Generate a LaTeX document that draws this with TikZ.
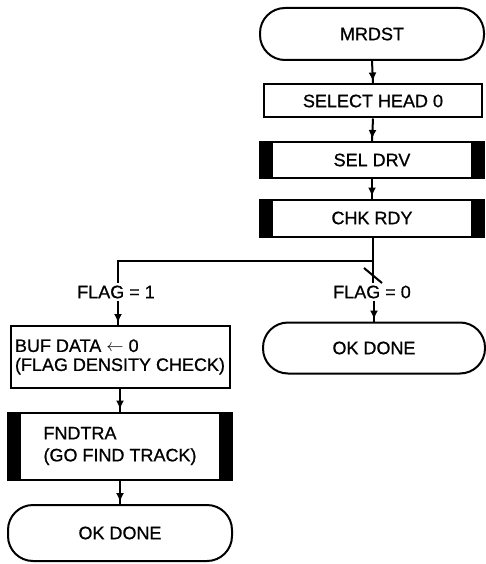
\documentclass[tikz,border=0pt]{standalone}
\usepackage{fontspec}
\setmainfont{Liberation Sans}
\newfontfamily\flowfont{Liberation Sans}[FakeBold=0.8]
\usetikzlibrary{arrows.meta, decorations.markings}

\begin{document}
\begin{tikzpicture}[x=1pt, y=-1pt, line width=2pt, font=\flowfont\fontsize{18}{21}\selectfont,
    term/.style={draw, rounded corners=25pt, minimum width=#1, minimum height=52pt, inner sep=0pt},
    proc/.style={draw, minimum width=218pt, minimum height=33pt, inner sep=0pt},
    predef/.style={draw, minimum width=224pt, minimum height=36pt, inner sep=0pt,
        path picture={
            \fill (path picture bounding box.north west) rectangle ([xshift=13pt]path picture bounding box.south west);
            \fill (path picture bounding box.north east) rectangle ([xshift=-13pt]path picture bounding box.south east);
        }},
    flow/.style={decoration={markings, mark=at position -2pt with {\arrow{Latex[length=9pt,width=8pt]}}}, postaction={decorate}},
    lbl/.style={inner sep=2pt}]
    \useasboundingbox (0,0) rectangle (486,564);

    % main column
    \node[term=224pt] (start) at (372,34) {MRDST};
    \node[proc] (selhead) at (373,101) {SELECT HEAD 0};
    \node[predef] (seldrv) at (372,160) {SEL DRV};
    \node[predef, minimum height=37pt] (chkrdy) at (372,218) {CHK RDY};

    \draw[flow] (start.south) -- (selhead.north);
    \draw[flow] (selhead.south) -- (seldrv.north);
    \draw[flow] (seldrv.south) -- (chkrdy.north);

    % branch on flag
    \coordinate (split) at (373,261);
    \coordinate (lsplit) at (118,261);
    \node[lbl] (flag1) at (116,292) {FLAG = 1};
    \node[lbl] (flag0) at (372,292) {FLAG = 0};

    \draw (chkrdy.south -| split) -- (split) -- (lsplit) -- (lsplit |- flag1.north);
    \draw (split) -- (split |- flag0.north);
    \draw ([xshift=-9pt,yshift=8pt]split |- 0,276) -- ([xshift=9pt,yshift=-7pt]split |- 0,276);

    % flag = 0
    \node[term=222pt, minimum height=51pt] (done0) at (374,348) {OK DONE};
    \draw[flow] (flag0.south -| done0) -- (done0.north);

    % flag = 1
    \node[draw, minimum width=219pt, minimum height=62pt, inner sep=2pt, align=left] (bufdata) at (120,357)
        {BUF DATA $\leftarrow$ 0\\[-2pt](FLAG DENSITY CHECK)};
    \node[predef, minimum height=67pt, align=left] (fndtra) at (120,446) {FNDTRA\\[1pt](GO FIND TRACK)};
    \node[term=224pt, minimum height=56pt] (done1) at (120,533) {OK DONE};

    \draw[flow] (flag1.south -| lsplit) -- (lsplit |- bufdata.north);
    \draw[flow] (bufdata.south) -- (fndtra.north);
    \draw[flow] (fndtra.south) -- (done1.north);
\end{tikzpicture}
\end{document}
